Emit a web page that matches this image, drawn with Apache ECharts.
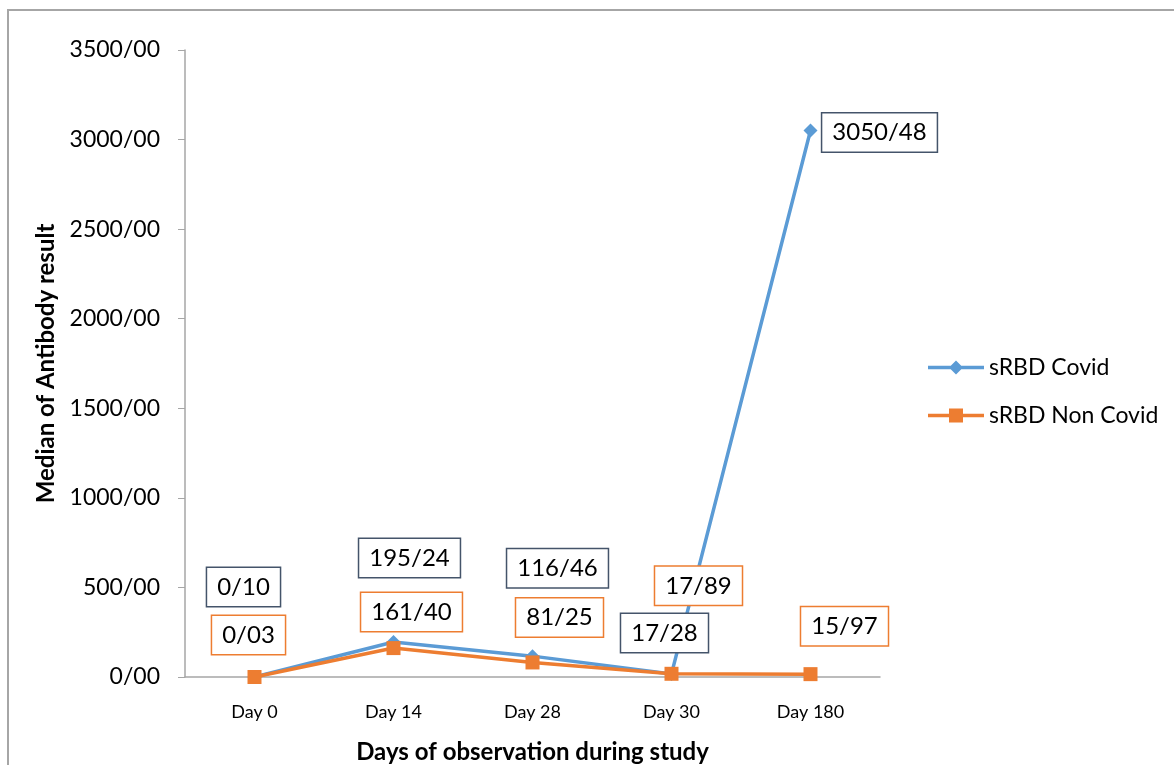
<!DOCTYPE html>
<html>
<head>
<meta charset="utf-8">
<script src="https://cdn.jsdelivr.net/npm/echarts@6/dist/echarts.min.js"></script>
<style>
  html, body { margin: 0; padding: 0; background: #fff; }
  #chart { width: 1174px; height: 765px; }
</style>
</head>
<body>
<div id="chart"></div>
<script>
// Observation days and median sRBD antibody results
const categories = ['Day 0', 'Day 14', 'Day 28', 'Day 30', 'Day 180'];
const covidValues = [0.10, 195.24, 116.46, 17.28, 3050.48];
const nonCovidValues = [0.03, 161.40, 81.25, 17.89, 15.97];
const seriesNames = ['sRBD Covid', 'sRBD Non Covid'];

// Label box offsets (px) from each point, so the boxes don't overlap
const covidLabelOffsets = [[-11, -90], [16, -84], [25, -88], [-7, -41], [69, 2]];
const nonCovidLabelOffsets = [[-6, -42], [18, -36], [27, -45], [27, -88], [34, -48]];

const FONT = 'Lato, "Open Sans", sans-serif';
const BLUE = '#5B9BD5';
const ORANGE = '#ED7D31';

// Legend icons: a thick line segment with the series marker in the middle
const ICON_DIAMOND = 'path://M0,5.2H56V8.8H0Z M28,0L35,7L28,14L21,7Z';
const ICON_SQUARE = 'path://M0,5.2H56V8.8H0Z M21,0H35V14H21Z';

// Numbers use "/" as the decimal separator
const fmt = v => Number(v).toFixed(2).replace('.', '/');

function withLabels(values, offsets, borderColor) {
  return values.map((v, i) => ({
    value: v,
    label: {
      show: true,
      position: 'inside',
      offset: offsets[i],
      formatter: p => fmt(p.value),
      color: '#000',
      fontFamily: FONT,
      fontSize: 24,
      lineHeight: 26,
      backgroundColor: '#fff',
      borderColor: borderColor,
      borderWidth: 1.5,
      padding: [7, 10, 5, 10]
    }
  }));
}

const chart = echarts.init(document.getElementById('chart'));
chart.setOption({
  animation: false,
  backgroundColor: '#fff',
  graphic: [{
    type: 'rect',
    shape: { x: 8, y: 10, width: 1200, height: 800 },
    style: { fill: 'none', stroke: '#A6A6A6', lineWidth: 2 },
    silent: true,
    z: -10
  }],
  grid: { left: 185, right: 294, top: 50, bottom: 88, outerBoundsMode: 'none', containLabel: false },
  legend: {
    orient: 'vertical',
    left: 928,
    top: 356,
    padding: 0,
    itemWidth: 56,
    itemHeight: 14,
    itemGap: 25,
    textStyle: { fontFamily: FONT, fontSize: 23, color: '#000' },
    data: [
      { name: seriesNames[0], icon: ICON_DIAMOND, itemStyle: { color: BLUE } },
      { name: seriesNames[1], icon: ICON_SQUARE, itemStyle: { color: ORANGE } }
    ]
  },
  xAxis: {
    type: 'category',
    data: categories,
    boundaryGap: true,
    name: 'Days of observation during study',
    nameLocation: 'middle',
    nameGap: 63,
    nameTextStyle: { fontFamily: FONT, fontSize: 24, fontWeight: 'bold', color: '#000' },
    axisLine: { lineStyle: { color: '#A6A6A6', width: 1.5 } },
    axisTick: { show: false },
    axisLabel: { fontFamily: FONT, fontSize: 18, color: '#000', margin: 26 }
  },
  yAxis: {
    type: 'value',
    min: 0,
    max: 3500,
    interval: 500,
    name: 'Median of Antibody result',
    nameLocation: 'middle',
    nameRotate: 90,
    nameGap: 126,
    nameTextStyle: { fontFamily: FONT, fontSize: 24, fontWeight: 'bold', color: '#000' },
    axisLine: { show: true, lineStyle: { color: '#A6A6A6', width: 1.5 } },
    axisTick: { show: true, length: 7, lineStyle: { color: '#A6A6A6' } },
    splitLine: { show: false },
    axisLabel: { formatter: fmt, fontFamily: FONT, fontSize: 23, color: '#000', margin: 25 }
  },
  series: [
    {
      name: seriesNames[0],
      type: 'line',
      data: withLabels(covidValues, covidLabelOffsets, '#44546A'),
      symbol: 'diamond',
      symbolSize: 14,
      lineStyle: { color: BLUE, width: 3.5 },
      itemStyle: { color: BLUE },
      z: 2
    },
    {
      name: seriesNames[1],
      type: 'line',
      data: withLabels(nonCovidValues, nonCovidLabelOffsets, ORANGE),
      symbol: 'rect',
      symbolSize: 14,
      lineStyle: { color: ORANGE, width: 3.5 },
      itemStyle: { color: ORANGE },
      z: 3
    }
  ]
});
</script>
</body>
</html>
